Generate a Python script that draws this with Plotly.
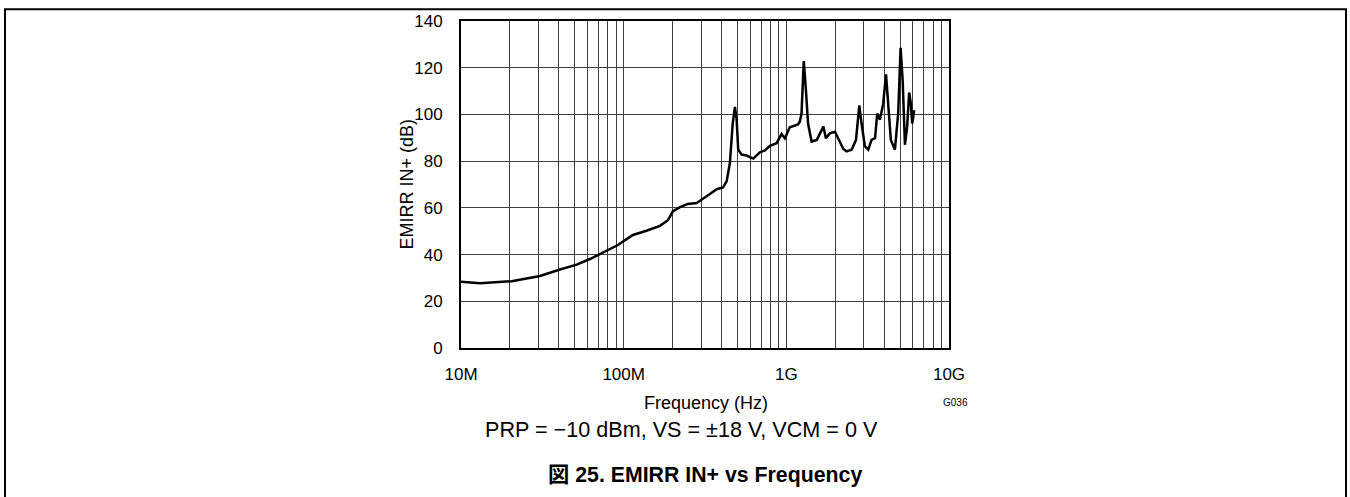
import plotly.graph_objects as go

freq_hz = [1.0e7, 1.31e7, 2.05e7, 3.06e7, 4.06e7, 5.14e7, 6.21e7, 7.15e7, 8.24e7, 9.23e7,
           1.02e8, 1.14e8, 1.38e8, 1.67e8, 1.87e8, 2.01e8, 2.22e8, 2.48e8, 2.81e8, 3.07e8,
           3.39e8, 3.73e8, 4.08e8, 4.30e8, 4.50e8, 4.68e8, 4.83e8, 4.95e8, 5.06e8, 5.31e8,
           5.70e8, 6.26e8, 6.88e8, 7.38e8, 7.93e8, 8.71e8, 9.35e8, 9.80e8, 1.05e9, 1.18e9,
           1.21e9, 1.24e9, 1.28e9, 1.32e9, 1.36e9, 1.43e9, 1.54e9, 1.61e9, 1.69e9, 1.75e9,
           1.85e9, 1.99e9, 2.11e9, 2.24e9, 2.35e9, 2.52e9, 2.68e9, 2.81e9, 2.90e9, 3.04e9,
           3.19e9, 3.34e9, 3.51e9, 3.62e9, 3.76e9, 3.94e9, 4.10e9, 4.23e9, 4.39e9, 4.65e9,
           4.87e9, 5.04e9, 5.19e9, 5.36e9, 5.53e9, 5.69e9, 5.83e9, 5.94e9, 6.11e9]
emirr_db = [28.4, 27.7, 28.6, 30.8, 33.6, 35.7, 38.1, 40.2, 42.5, 44.1,
            46.2, 48.4, 50.2, 52.3, 54.7, 58.6, 60.3, 61.7, 62.1, 63.8,
            65.9, 68.0, 68.7, 71.5, 79.3, 96.1, 103.2, 97.7, 84.9, 82.8,
            82.4, 81.1, 83.8, 84.6, 86.6, 87.7, 91.6, 89.8, 94.5, 95.7,
            96.9, 100.4, 122.8, 110.2, 96.1, 88.4, 89.1, 91.9, 94.8, 89.8,
            91.9, 92.6, 89.1, 85.2, 84.2, 84.9, 89.1, 103.9, 96.1, 86.4,
            84.9, 89.1, 89.8, 100.4, 97.7, 104.6, 117.2, 106.0, 89.1, 84.9,
            100.4, 128.5, 114.5, 87.0, 94.8, 109.4, 104.6, 96.1, 101.8]

x_tick_vals = [1e7, 1e8, 1e9, 1e10]
x_tick_text = ["10M", "100M", "1G", "10G"]
y_tick_vals = [0, 20, 40, 60, 80, 100, 120, 140]

minor_vals = [m * d for d in (1e7, 1e8, 1e9) for m in range(2, 10)]

FONT = "Liberation Sans, Arial, Noto Sans CJK JP, sans-serif"
GRID = "#404040"

fig = go.Figure()
fig.add_trace(go.Scatter(x=freq_hz, y=emirr_db, mode="lines",
                         line=dict(color="black", width=2.5), showlegend=False,
                         hoverinfo="skip"))

W, H = 1350, 497
L, R, T, B = 461, 949, 16, 348
pw, ph = R - L, B - T


def px(xp):
    return (xp - L) / pw


def py(yp):
    return (B - yp) / ph


fig.update_layout(
    width=W, height=H,
    margin=dict(l=L, r=W - R, t=T, b=H - B),
    paper_bgcolor="white", plot_bgcolor="white",
    font=dict(family=FONT, size=17, color="black"),
    xaxis=dict(type="log", range=[7, 10], tickvals=x_tick_vals, ticktext=x_tick_text,
               showgrid=True, gridcolor=GRID, gridwidth=1,
               minor=dict(tickvals=minor_vals, showgrid=True, gridcolor=GRID, gridwidth=1),
               showline=True, linecolor="black", linewidth=2, mirror=True,
               ticks="", ticklabelstandoff=10, zeroline=False,
               tickfont=dict(size=17)),
    yaxis=dict(range=[0, 140], tickvals=y_tick_vals,
               showgrid=True, gridcolor=GRID, gridwidth=1,
               showline=True, linecolor="black", linewidth=2, mirror=True,
               ticks="", ticklabelstandoff=13, zeroline=False,
               tickfont=dict(size=17)),
    shapes=[dict(type="rect", xref="paper", yref="paper",
                 x0=px(5), x1=px(1346), y0=py(520), y1=py(4),
                 line=dict(color="black", width=2), fillcolor="rgba(0,0,0,0)", layer="below")],
    annotations=[
        dict(text="EMIRR IN+ (dB)", xref="paper", yref="paper", x=px(406), y=py(182),
             textangle=-90, showarrow=False, font=dict(size=18),
             xanchor="center", yanchor="middle"),
        dict(text="Frequency (Hz)", xref="paper", yref="paper", x=px(706), y=py(404),
             showarrow=False, font=dict(size=18), xanchor="center", yanchor="middle"),
        dict(text="G036", xref="paper", yref="paper", x=px(955), y=py(403),
             showarrow=False, font=dict(size=10), xanchor="center", yanchor="middle"),
        dict(text="PRP = \u221210 dBm, VS = \u00b118 V, VCM = 0 V", xref="paper", yref="paper",
             x=px(681), y=py(431), showarrow=False, font=dict(size=21.6),
             xanchor="center", yanchor="middle"),
        dict(text="<b>\u56f3 25. EMIRR IN+ vs Frequency</b>", xref="paper", yref="paper",
             x=px(705), y=py(477), showarrow=False, font=dict(size=21.3),
             xanchor="center", yanchor="middle"),
    ],
)

fig.write_html("out.html", config={"displayModeBar": False},
               post_script="document.body.style.margin='0';"
                           "document.body.style.overflow='hidden';"
                           "document.documentElement.style.overflow='hidden';")
